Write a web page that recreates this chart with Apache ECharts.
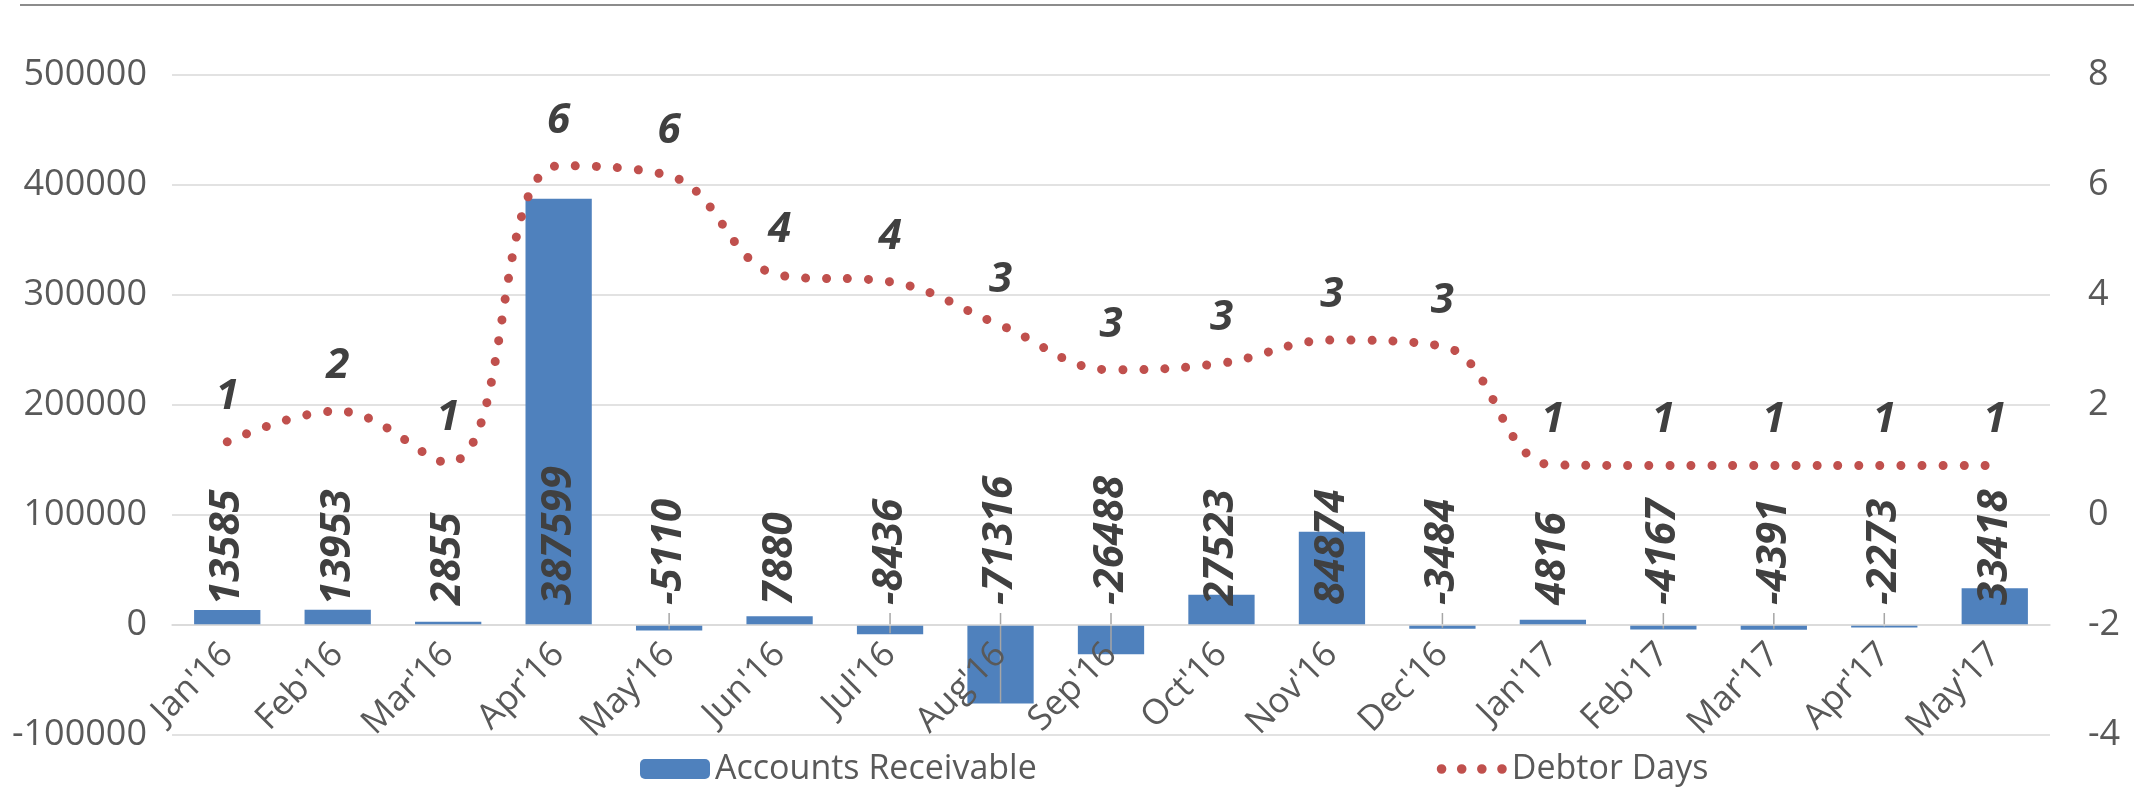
<!DOCTYPE html>
<html>
<head>
	<meta charset="utf-8">
	<title>Accounts Receivable / Debtor Days</title>
	<script src="https://cdn.jsdelivr.net/npm/echarts@6/dist/echarts.min.js"></script>
	<style>
		html, body { margin: 0; padding: 0; background: #fff; }
		#main { width: 2134px; height: 792px; }
	</style>
</head>
<body>
	<div id="main"></div>
</body>

<script type="text/javascript">
	var months = ["Jan'16", "Feb'16", "Mar'16", "Apr'16", "May'16", "Jun'16", "Jul'16", "Aug'16", "Sep'16",
		"Oct'16", "Nov'16", "Dec'16", "Jan'17", "Feb'17", "Mar'17", "Apr'17", "May'17"];
	var receivable = [13585, 13953, 2855, 387599, -5110, 7880, -8436, -71316, -26488,
		27523, 84874, -3484, 4816, -4167, -4391, -2273, 33418];
	var debtorDays = [1.33, 1.89, 0.95, 6.35, 6.17, 4.36, 4.24, 3.45, 2.64,
		2.76, 3.18, 3.07, 0.91, 0.9, 0.9, 0.9, 0.9];
	var leftScale = [-100000, 500000, 100000];
	var rightScale = [-4, 8, 2];

	var font = "'Open Sans', 'Liberation Sans', sans-serif";
	var dotsIcon = 'path://M0,5a5,5 0 1,0 10,0a5,5 0 1,0 -10,0M21,5a5,5 0 1,0 10,0a5,5 0 1,0 -10,0'
		+ 'M42,5a5,5 0 1,0 10,0a5,5 0 1,0 -10,0M63,5a5,5 0 1,0 10,0a5,5 0 1,0 -10,0';

	//bar labels all sit just above the zero line, reading upwards
	var barData = [];
	var leaderData = [];
	for(var i = 0; i < receivable.length; i++){
		barData.push({
			value: receivable[i],
			label: { position: receivable[i] >= 0 ? 'insideBottom' : 'top' }
		});
		leaderData.push([i, receivable[i]]);
	}

	var labelFont = {
		fontSize: 42,
		fontWeight: 'bold',
		fontStyle: 'italic',
		color: '#404040',
		fontFamily: font
	};

	var option = {
		animation: false,
		backgroundColor: '#fff',
		textStyle: { fontFamily: font },
		graphic: [{
			type: 'line',
			shape: { x1: 20, y1: 5, x2: 2134, y2: 5 },
			style: { stroke: '#8c8c8c', lineWidth: 2 }
		}],
		grid: {
			left: 172, right: 84, top: 75, bottom: 57,
			outerBoundsMode: 'none'
		},
		legend: {
			bottom: 1, left: 635,
			itemGap: 400, itemWidth: 70, itemHeight: 20,
			textStyle: { fontSize: 34, color: '#595959', fontFamily: font },
			data: [
				{ name: 'Accounts Receivable' },
				{ name: 'Debtor Days', icon: dotsIcon }
			]
		},
		xAxis: {
			type: 'category',
			data: months,
			offset: -110,
			z: 5,
			axisTick: { show: false },
			axisLine: { onZero: false, lineStyle: { color: '#d9d9d9', width: 1.5 } },
			axisLabel: { rotate: 45, margin: 24, fontSize: 35, color: '#595959', fontFamily: font }
		},
		yAxis: [{
			type: 'value',
			min: leftScale[0], max: leftScale[1], interval: leftScale[2],
			axisLine: { show: false }, axisTick: { show: false },
			axisLabel: {
				margin: 25, fontSize: 36, color: '#595959', fontFamily: font,
				formatter: function(v){ return String(v); }
			},
			splitLine: { lineStyle: { color: '#d9d9d9', width: 1.5 } }
		}, {
			type: 'value',
			min: rightScale[0], max: rightScale[1], interval: rightScale[2],
			axisLine: { show: false }, axisTick: { show: false },
			axisLabel: { margin: 38, fontSize: 36, color: '#595959', fontFamily: font },
			splitLine: { show: false }
		}],
		series: [{
			name: 'Accounts Receivable',
			type: 'bar',
			data: barData,
			barCategoryGap: '40%',
			itemStyle: { color: '#4f81bd' },
			label: Object.assign({
				show: true,
				rotate: 90,
				align: 'left',
				verticalAlign: 'middle',
				distance: 20
			}, labelFont)
		}, {
			//leader lines from the lifted labels down to negative bars
			name: 'leaders',
			type: 'custom',
			data: leaderData,
			encode: { x: 0, y: 1 },
			z: 4,
			silent: true,
			renderItem: function(params, api){
				var v = api.value(1);
				if(v >= 0) return;
				var a = api.coord([api.value(0), 0]);
				var b = api.coord([api.value(0), v]);
				return {
					type: 'line',
					shape: { x1: a[0], y1: a[1] - 12, x2: b[0], y2: b[1] - 1 },
					style: { stroke: '#a6a6a6', lineWidth: 1.5 }
				};
			}
		}, {
			name: 'Debtor Days',
			type: 'line',
			yAxisIndex: 1,
			data: debtorDays,
			smooth: 0.4,
			symbol: 'none',
			lineStyle: { color: '#c0504d', width: 9, type: [0.01, 21], cap: 'round' },
			itemStyle: { color: '#c0504d' }
		}, {
			//value labels of the debtor days line
			name: 'Debtor Days labels',
			type: 'scatter',
			yAxisIndex: 1,
			data: debtorDays,
			symbolSize: 0,
			silent: true,
			itemStyle: { opacity: 1 },
			label: Object.assign({
				show: true,
				position: 'top',
				distance: 24,
				opacity: 1,
				formatter: function(p){ return Math.round(p.value); }
			}, labelFont)
		}]
	};

	var myChart = echarts.init(document.getElementById('main'));
	myChart.setOption(option);
</script>
</html>
